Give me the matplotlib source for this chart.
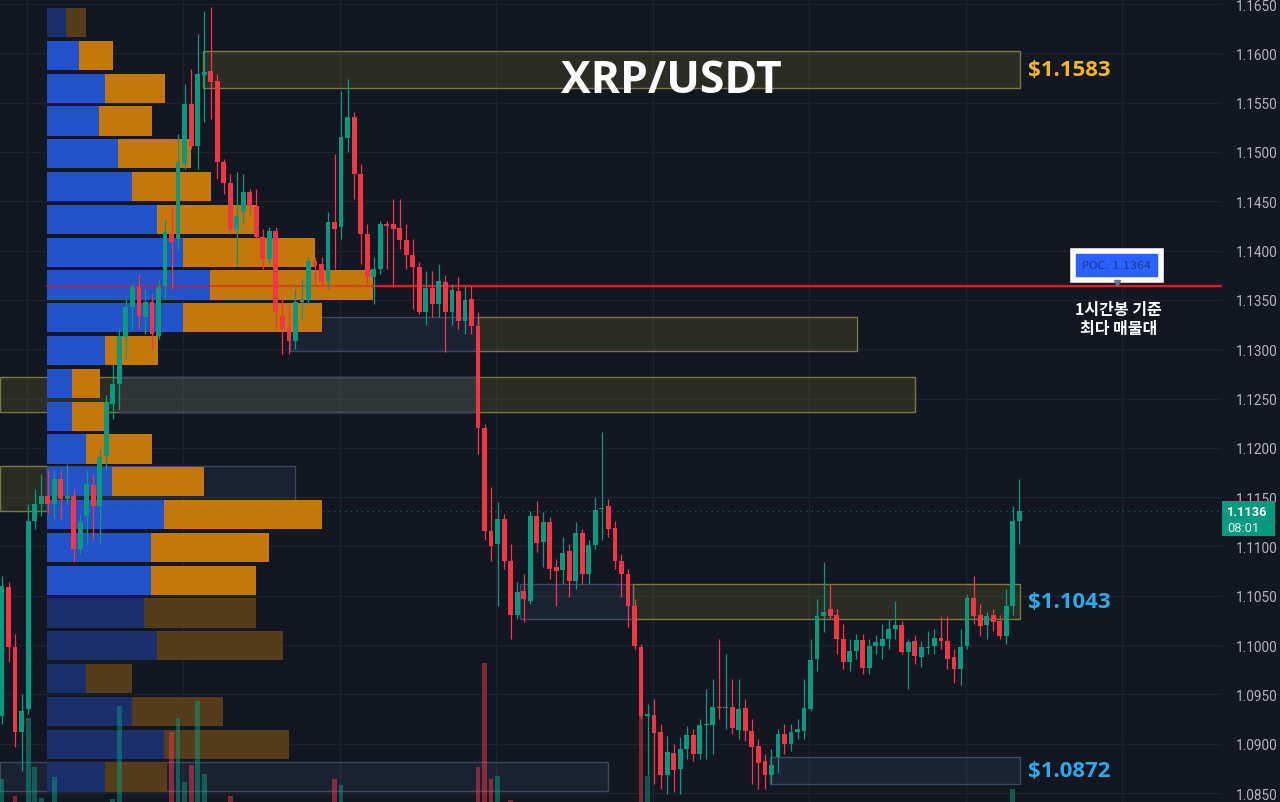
import numpy as np
import matplotlib
matplotlib.use('Agg')
import matplotlib.pyplot as plt
from matplotlib.patches import Rectangle
from matplotlib.transforms import blended_transform_factory

plt.rcParams['font.family'] = ['Open Sans', 'Noto Sans CJK KR', 'DejaVu Sans']

# 1h candles, XRP/USDT
opens = [1.0928, 1.1059, 1.0998, 1.0912, 1.0935, 1.1126, 1.1143, 1.1151, 1.1143, 1.1168,
         1.1148, 1.1151, 1.1097, 1.1131, 1.1162, 1.1141, 1.1192, 1.1244, 1.1265, 1.1312,
         1.1343, 1.1363, 1.1333, 1.1348, 1.1313, 1.1364, 1.1417, 1.1412, 1.1488, 1.1549,
         1.1506, 1.1578, 1.1582, 1.1572, 1.1490, 1.1469, 1.1422, 1.1439, 1.1459, 1.1445,
         1.1414, 1.1391, 1.1420, 1.1334, 1.1323, 1.1308, 1.1348, 1.1351, 1.1389, 1.1386,
         1.1369, 1.1429, 1.1424, 1.1514, 1.1535, 1.1478, 1.1417, 1.1373, 1.1381, 1.1427,
         1.1427, 1.1423, 1.1411, 1.1396, 1.1383, 1.1338, 1.1362, 1.1346, 1.1368, 1.1338,
         1.1359, 1.1329, 1.1351, 1.1324, 1.1220, 1.1116, 1.1102, 1.1128, 1.1085, 1.1031,
         1.1055, 1.1045, 1.1131, 1.1105, 1.1125, 1.1079, 1.1076, 1.1095, 1.1065, 1.1114,
         1.1072, 1.1101, 1.1138, 1.1141, 1.1119, 1.1085, 1.1072, 1.1040, 1.0998, 1.0928,
         1.0929, 1.0912, 1.0868, 1.0891, 1.0874, 1.0895, 1.0909, 1.0890, 1.0919, 1.0919,
         1.0937, 1.0936, 1.0937, 1.0914, 1.0936, 1.0913, 1.0898, 1.0882, 1.0868, 1.0887,
         1.0910, 1.0900, 1.0912, 1.0913, 1.0935, 1.0986, 1.1029, 1.1037, 1.1031, 1.1006,
         1.0983, 1.0994, 1.1005, 1.0977, 1.0999, 1.0999, 1.1006, 1.1016, 1.1020, 1.0993,
         1.1004, 1.0988, 1.0997, 1.0999, 1.1007, 1.1004, 1.0988, 1.0976, 1.0999, 1.1048,
         1.1031, 1.1020, 1.1031, 1.1024, 1.1009, 1.1040, 1.1126]
closes = [1.1060, 1.0998, 1.0912, 1.0933, 1.1126, 1.1143, 1.1151, 1.1143, 1.1168, 1.1148,
          1.1151, 1.1097, 1.1125, 1.1163, 1.1141, 1.1191, 1.1246, 1.1265, 1.1313, 1.1343,
          1.1363, 1.1334, 1.1348, 1.1315, 1.1363, 1.1419, 1.1409, 1.1490, 1.1549, 1.1506,
          1.1579, 1.1581, 1.1571, 1.1490, 1.1469, 1.1422, 1.1435, 1.1459, 1.1445, 1.1414,
          1.1391, 1.1420, 1.1338, 1.1320, 1.1308, 1.1348, 1.1351, 1.1389, 1.1384, 1.1368,
          1.1429, 1.1422, 1.1515, 1.1535, 1.1478, 1.1417, 1.1373, 1.1381, 1.1427, 1.1425,
          1.1422, 1.1411, 1.1396, 1.1383, 1.1338, 1.1362, 1.1346, 1.1369, 1.1338, 1.1360,
          1.1329, 1.1350, 1.1324, 1.1220, 1.1116, 1.1100, 1.1128, 1.1085, 1.1031, 1.1054,
          1.1047, 1.1131, 1.1104, 1.1125, 1.1077, 1.1075, 1.1093, 1.1065, 1.1114, 1.1072,
          1.1101, 1.1137, 1.1139, 1.1118, 1.1085, 1.1072, 1.1040, 1.0999, 1.0928, 1.0930,
          1.0911, 1.0868, 1.0892, 1.0873, 1.0895, 1.0909, 1.0890, 1.0919, 1.0920, 1.0937,
          1.0936, 1.0937, 1.0916, 1.0935, 1.0913, 1.0897, 1.0880, 1.0868, 1.0878, 1.0910,
          1.0900, 1.0912, 1.0915, 1.0936, 1.0985, 1.1029, 1.1034, 1.1029, 1.1006, 1.0983,
          1.0994, 1.1005, 1.0977, 1.0999, 1.1003, 1.1006, 1.1016, 1.1020, 1.0993, 1.1003,
          1.0989, 1.0998, 1.0998, 1.1007, 1.1004, 1.0986, 1.0976, 1.0998, 1.1048, 1.1030,
          1.1019, 1.1030, 1.1023, 1.1009, 1.1040, 1.1126, 1.1136]
highs = [1.1070, 1.1064, 1.1011, 1.0950, 1.1143, 1.1158, 1.1173, 1.1178, 1.1178, 1.1178,
         1.1184, 1.1158, 1.1133, 1.1178, 1.1173, 1.1199, 1.1254, 1.1285, 1.1320, 1.1351,
         1.1366, 1.1376, 1.1361, 1.1356, 1.1371, 1.1432, 1.1447, 1.1518, 1.1569, 1.1584,
         1.1620, 1.1643, 1.1647, 1.1579, 1.1493, 1.1478, 1.1480, 1.1478, 1.1462, 1.1462,
         1.1422, 1.1424, 1.1424, 1.1351, 1.1346, 1.1361, 1.1371, 1.1393, 1.1393, 1.1393,
         1.1439, 1.1498, 1.1562, 1.1574, 1.1541, 1.1488, 1.1427, 1.1393, 1.1430, 1.1430,
         1.1452, 1.1452, 1.1427, 1.1412, 1.1388, 1.1379, 1.1379, 1.1386, 1.1375, 1.1366,
         1.1373, 1.1364, 1.1364, 1.1338, 1.1224, 1.1160, 1.1145, 1.1133, 1.1102, 1.1064,
         1.1072, 1.1136, 1.1146, 1.1135, 1.1130, 1.1087, 1.1110, 1.1102, 1.1125, 1.1118,
         1.1107, 1.1150, 1.1216, 1.1148, 1.1126, 1.1092, 1.1077, 1.1047, 1.1001, 1.0940,
         1.0945, 1.0920, 1.0908, 1.0900, 1.0907, 1.0918, 1.0915, 1.0925, 1.0955, 1.0966,
         1.1006, 1.0991, 1.0966, 1.0966, 1.0945, 1.0925, 1.0905, 1.0890, 1.0895, 1.0915,
         1.0920, 1.0920, 1.0925, 1.0966, 1.1006, 1.1047, 1.1084, 1.1062, 1.1037, 1.1021,
         1.1006, 1.1011, 1.1011, 1.1006, 1.1010, 1.1021, 1.1026, 1.1045, 1.1024, 1.1006,
         1.1010, 1.1004, 1.1014, 1.1016, 1.1029, 1.1029, 1.0996, 1.1016, 1.1052, 1.1070,
         1.1042, 1.1034, 1.1037, 1.1031, 1.1057, 1.1141, 1.1168]
lows = [1.0920, 1.0983, 1.0897, 1.0872, 1.0930, 1.1118, 1.1131, 1.1133, 1.1128, 1.1128,
        1.1143, 1.1084, 1.1092, 1.1102, 1.1107, 1.1102, 1.1178, 1.1229, 1.1239, 1.1290,
        1.1320, 1.1320, 1.1315, 1.1300, 1.1310, 1.1351, 1.1361, 1.1402, 1.1483, 1.1503,
        1.1483, 1.1530, 1.1533, 1.1473, 1.1457, 1.1417, 1.1384, 1.1427, 1.1437, 1.1412,
        1.1381, 1.1386, 1.1320, 1.1295, 1.1295, 1.1300, 1.1331, 1.1346, 1.1366, 1.1361,
        1.1361, 1.1381, 1.1412, 1.1500, 1.1452, 1.1386, 1.1366, 1.1346, 1.1376, 1.1381,
        1.1363, 1.1402, 1.1381, 1.1341, 1.1336, 1.1325, 1.1333, 1.1333, 1.1297, 1.1325,
        1.1320, 1.1315, 1.1315, 1.1194, 1.1107, 1.1085, 1.1040, 1.1077, 1.1006, 1.1026,
        1.1023, 1.1042, 1.1094, 1.1079, 1.1067, 1.1040, 1.1062, 1.1049, 1.1057, 1.1062,
        1.1062, 1.1097, 1.1107, 1.1110, 1.1077, 1.1049, 1.1018, 1.0996, 1.0925, 1.0868,
        1.0859, 1.0854, 1.0849, 1.0851, 1.0849, 1.0885, 1.0882, 1.0885, 1.0885, 1.0890,
        1.0925, 1.0915, 1.0910, 1.0905, 1.0903, 1.0859, 1.0854, 1.0854, 1.0859, 1.0870,
        1.0890, 1.0893, 1.0905, 1.0905, 1.0933, 1.0974, 1.1013, 1.1026, 1.0991, 1.0976,
        1.0974, 1.0986, 1.0971, 1.0971, 1.0991, 1.0986, 1.0996, 1.1006, 1.0991, 1.0955,
        1.0981, 1.0978, 1.0991, 1.0991, 1.0996, 1.0976, 1.0962, 1.0960, 1.0996, 1.1021,
        1.1009, 1.1006, 1.1014, 1.1006, 1.1001, 1.1031, 1.1102]

# visible volume bars (candle index, height in % of pane)
vol_idx = [0, 2, 4, 5, 6, 8, 17, 18, 26, 27, 28, 29, 30, 31, 35, 51, 52,
           73, 74, 75, 76, 78, 98, 99, 155]
vol_val = [2.9, 0.8, 10.5, 4.4, 0.5, 3.1, 0.4, 12.0, 8.7, 10.5, 2.5, 4.6, 12.6, 3.5, 0.8, 2.9, 2.1,
           4.4, 17.3, 2.9, 3.2, 0.2, 10.7, 3.2, 1.6]

# volume profile rows, top to bottom (buy / sell)
prof_buy = [19, 32, 58, 52, 71, 85, 110, 136, 163, 136, 58, 25,
            25, 39, 65, 117, 104, 104, 97, 110, 39, 85, 117, 58]
prof_sell = [20, 34, 60, 53, 73, 79, 99, 132, 163, 139, 53, 28,
             32, 66, 92, 158, 118, 105, 112, 126, 46, 91, 125, 62]
prof_in_va = [False] + [True] * 17 + [False] * 6
prof_top = 1.1646
prof_step = 0.003326
poc_price = 1.1364

# supply / demand zones
zone_x0 = [30.8, 44.2, 73.0, -0.3, 17.9, -0.3, 6.9, 79.4, 96.8, 117.8, -0.3]
zone_x1 = [156.1, 73.0, 131.1, 140.0, 73.0, 6.9, 44.9, 96.8, 156.1, 156.1, 92.9]
zone_lo = [1.1565, 1.1298, 1.1298, 1.1236, 1.1236, 1.1136, 1.1136, 1.1026, 1.1026, 1.0859, 1.0852]
zone_hi = [1.1602, 1.1333, 1.1333, 1.1272, 1.1272, 1.1182, 1.1182, 1.1062, 1.1062, 1.0887, 1.0881]
zone_kind = ['y', 'b', 'y', 'y', 'b', 'y', 'b', 'b', 'y', 'b', 'b']

level_text = ['$1.1583', '$1.1043', '$1.0872']
level_price = [1.15835, 1.1044, 1.0873]
level_color = ['#f5b71e', '#2fa8ea', '#2fa8ea']

last_price = 1.1136
countdown = '08:01'

BG = '#131722'
GREEN = '#089981'
RED = '#f23645'

fig = plt.figure(figsize=(12.8, 8.03), dpi=100, facecolor=BG)
ax = fig.add_axes([0, 0, 1222 / 1280, 1])
ax.set_facecolor(BG)

x = np.arange(len(opens))
o = np.array(opens)
c = np.array(closes)
h = np.array(highs)
l = np.array(lows)
col = np.where(c >= o, GREEN, RED)

# grid
yticks = np.arange(1.085, 1.16501, 0.005)
for yt in yticks:
    ax.axhline(yt, color='#1e2230', lw=1, zorder=0)
for k in range(8):
    ax.axvline(3.8 + 24 * k, color='#1e2230', lw=1, zorder=0)

# zones
for x0, x1, lo, hi, kd in zip(zone_x0, zone_x1, zone_lo, zone_hi, zone_kind):
    if kd == 'y':
        ax.add_patch(Rectangle((x0, lo), x1 - x0, hi - lo, facecolor='#8c8a2e', alpha=0.2,
                               edgecolor='none', zorder=1))
        ax.add_patch(Rectangle((x0, lo), x1 - x0, hi - lo, facecolor='none',
                               edgecolor='#7a7840', lw=1, zorder=1))
    else:
        ax.add_patch(Rectangle((x0, lo), x1 - x0, hi - lo, facecolor='#4a6a9a', alpha=0.15,
                               edgecolor='none', zorder=1))
        ax.add_patch(Rectangle((x0, lo), x1 - x0, hi - lo, facecolor='none',
                               edgecolor='#3a4862', lw=1, zorder=1))

# volume profile (left anchored)
tr_prof = blended_transform_factory(ax.transAxes, ax.transData)
px = 1 / 1222
for k, (b, s, va) in enumerate(zip(prof_buy, prof_sell, prof_in_va)):
    top = prof_top - k * prof_step
    hgt = prof_step * 0.89
    cb = '#2452c8' if va else '#1b2f6a'
    cs = '#c4780c' if va else '#553d1c'
    ax.add_patch(Rectangle((47 * px, top - hgt), b * px, hgt, transform=tr_prof,
                           facecolor=cb, edgecolor='none', zorder=2))
    ax.add_patch(Rectangle((47 * px + b * px, top - hgt), s * px, hgt, transform=tr_prof,
                           facecolor=cs, edgecolor='none', zorder=2))

# POC line
poc_end = 47 * px + (prof_buy[8] + prof_sell[8]) * px
ax.plot([47 * px, poc_end], [poc_price, poc_price], transform=tr_prof,
        color='#e31b23', lw=1.6, alpha=0.5, zorder=2.5)
ax.plot([poc_end, 1.0], [poc_price, poc_price], transform=tr_prof,
        color='#e31b23', lw=1.6, zorder=3.5)

# volume bars
tr_vol = blended_transform_factory(ax.transData, ax.transAxes)
for i, v in zip(vol_idx, vol_val):
    ax.add_patch(Rectangle((i - 0.37, 0), 0.74, v / 100, transform=tr_vol,
                           facecolor=col[i], alpha=0.5, edgecolor='none', zorder=3))

# candles
ax.vlines(x, l, h, colors=col, lw=0.9, zorder=4)
ax.bar(x, np.maximum(np.abs(c - o), 0.00008), bottom=np.minimum(o, c), width=0.74,
       color=col, zorder=5)

# last price line
ax.axhline(last_price, color=GREEN, lw=1, alpha=0.55, ls=(0, (1, 3)), zorder=3)

ax.set_xlim(-0.31, 187.1)
ax.set_ylim(1.08409, 1.16551)

# texts
ax.text(0.549, 1 - 93 / 803, 'XRP/USDT', transform=ax.transAxes, ha='center', va='baseline',
        color='white', fontsize=32, fontweight='bold', zorder=10)
for t, p, cc in zip(level_text, level_price, level_color):
    ax.text(157.4, p, t, ha='left', va='center', color=cc, fontsize=16,
            fontweight='bold', zorder=10)

ax.text(171.0, 1.1385, 'POC: ' + f'{poc_price:.4f}', ha='center', va='center', fontsize=8,
        color='#1e3a8a', family='DejaVu Sans', zorder=10,
        bbox=dict(boxstyle='square,pad=0.85', facecolor='#2962ff', edgecolor='white', lw=4))
ax.plot([171.0], [1.1367], marker='v', ms=4, color='#6a7390', zorder=10)
ax.text(171.2, 1.1331, '1시간봉 기준\n최다 매물대', ha='center', va='center', fontsize=11.5,
        color='white', fontweight='bold', linespacing=1.25,
        family=['Noto Sans CJK KR', 'DejaVu Sans'], zorder=10)

# right price axis
ax.yaxis.tick_right()
ax.set_yticks(yticks)
ax.set_yticklabels([f'{v:.4f}' for v in yticks])
ax.tick_params(axis='y', length=0, pad=10, labelcolor='#b2b5be', labelsize=9.8,
               labelfontfamily='Roboto')
ax.set_xticks([])
for sp in ax.spines.values():
    sp.set_visible(False)

# last price tag
tr_tag = blended_transform_factory(ax.transAxes, ax.transData)
ax.add_patch(Rectangle((1.0, 1.11105), 53 / 1222, 0.00355, transform=tr_tag,
                       facecolor=GREEN, edgecolor='none', clip_on=False, zorder=10))
ax.text(1.0 + 5 / 1222, last_price - 0.00005, f'{last_price:.4f}', transform=tr_tag,
        ha='left', va='center', color='white', fontsize=9.3, fontweight='bold',
        family='Roboto', zorder=11)
ax.text(1.0 + 5 / 1222, 1.11195, countdown, transform=tr_tag, ha='left', va='center',
        color='#e8f5f2', fontsize=9.3, family='Roboto', zorder=11)

fig.savefig('out.png', dpi=100, facecolor=BG)
